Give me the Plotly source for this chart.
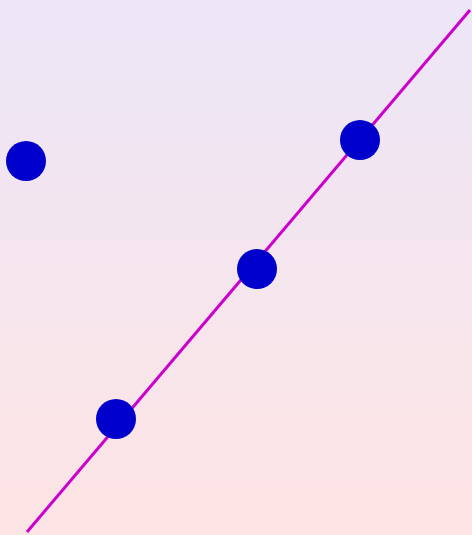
import plotly.graph_objects as go

# Data (in chart units, y increases upward)
point_x = [26, 116, 257, 360]
point_y = [374, 116, 266, 395]
line_x = [27, 470]
line_y = [3, 525]

W, H = 472, 535

fig = go.Figure()
fig.add_trace(go.Scatter(x=line_x, y=line_y, mode="lines",
                         line=dict(color="#CC00CC", width=3), hoverinfo="skip"))
fig.add_trace(go.Scatter(x=point_x, y=point_y, mode="markers",
                         marker=dict(color="#0000CC", size=40, line=dict(width=0))))

# vertical gradient background
top = (236, 230, 247)
bot = (253, 228, 228)
n = 60
shapes = []
for i in range(n):
    t = i / (n - 1)
    c = tuple(round(top[k] + (bot[k] - top[k]) * t) for k in range(3))
    shapes.append(dict(type="rect", xref="paper", yref="paper",
                       x0=0, x1=1, y0=1 - (i + 1) / n, y1=1 - i / n + 0.002,
                       fillcolor="rgb(%d,%d,%d)" % c, line=dict(width=0), layer="below"))

fig.update_layout(
    width=W, height=H, margin=dict(l=0, r=0, t=0, b=0),
    paper_bgcolor="rgba(0,0,0,0)", plot_bgcolor="rgba(0,0,0,0)",
    showlegend=False, shapes=shapes,
    xaxis=dict(range=[0, W], visible=False, fixedrange=True),
    yaxis=dict(range=[0, H], visible=False, fixedrange=True),
)
fig.write_html("out.html", config={"displayModeBar": False},
               post_script="document.body.style.margin='0';document.body.style.overflow='hidden';")
